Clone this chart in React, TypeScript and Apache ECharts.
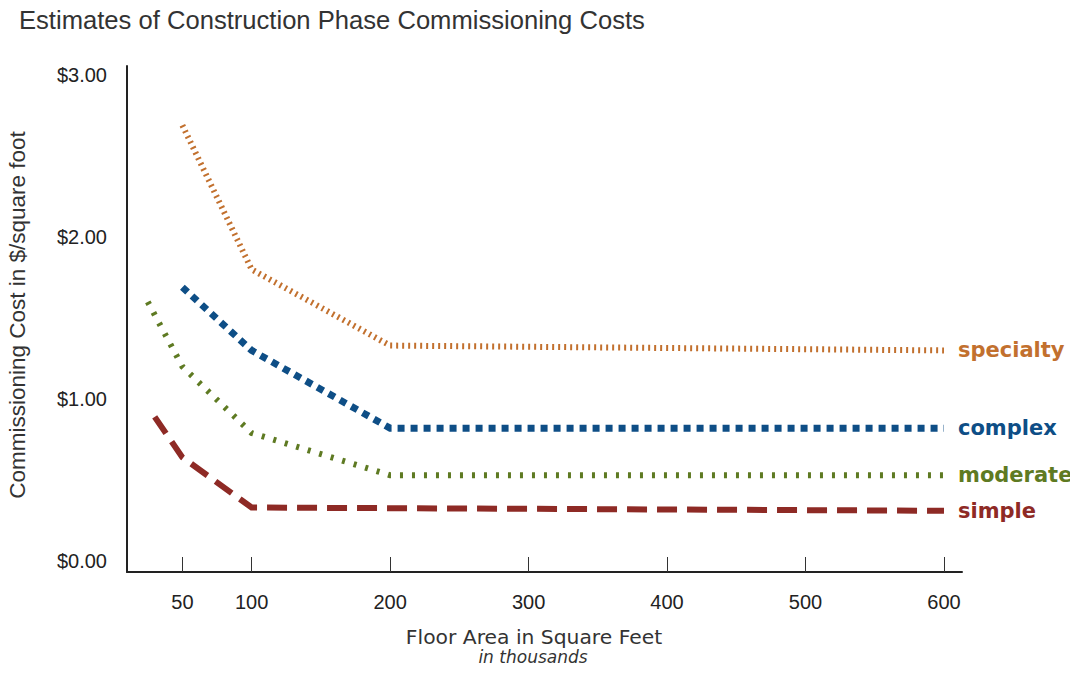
import React, { useEffect, useRef } from "react";
import * as echarts from "echarts";

const title = "Estimates of Construction Phase Commissioning Costs";
const xName = "Floor Area in Square Feet";
const xSubName = "in thousands";
const yName = "Commissioning Cost in $/square foot";
const xTicks = [50, 100, 200, 300, 400, 500, 600];
const yTicks = [0, 1, 2, 3];

const specialtyX = [50, 100, 200, 600];
const specialtyY = [2.69, 1.8, 1.33, 1.3];
const complexX = [50, 100, 200, 600];
const complexY = [1.69, 1.3, 0.82, 0.82];
const moderateX = [25, 50, 100, 200, 600];
const moderateY = [1.6, 1.2, 0.79, 0.53, 0.53];
const simpleX = [30, 50, 100, 600];
const simpleY = [0.89, 0.64, 0.33, 0.31];

const zip = (xs: number[], ys: number[]) => xs.map((x, i) => [x, ys[i]]);

export default function App() {
  const ref = useRef<HTMLDivElement>(null);
  useEffect(() => {
    if (!ref.current) return;
    const chart = echarts.init(ref.current, null, { renderer: "svg" });
    const mk = (name: string, xs: number[], ys: number[], color: string, width: number, dash: number[]) => ({
      type: "line",
      name,
      data: zip(xs, ys),
      showSymbol: false,
      symbol: "none",
      lineStyle: { color, width, type: dash, cap: "butt", join: "miter" },
      endLabel: {
        show: true,
        formatter: name,
        color,
        fontFamily: "DejaVu Sans",
        fontWeight: "bold",
        fontSize: 21,
        distance: 14,
      },
    });
    chart.setOption({
      animation: false,
      backgroundColor: "#ffffff",
      title: {
        text: title,
        left: 19,
        top: 7,
        padding: 0,
        textStyle: { fontFamily: "Liberation Sans", fontWeight: "normal", fontSize: 25.6, color: "#333" },
      },
      grid: { left: 127, right: 116, top: 66, bottom: 102 },
      graphic: [
        {
          type: "text",
          x: 534,
          y: 637,
          style: { text: xName, fontFamily: "DejaVu Sans", fontSize: 20.3, fill: "#333", align: "center", verticalAlign: "middle" },
        },
        {
          type: "text",
          x: 533,
          y: 657,
          style: { text: xSubName, fontFamily: "DejaVu Sans", fontStyle: "italic", fontSize: 17, fill: "#333", align: "center", verticalAlign: "middle" },
        },
        {
          type: "text",
          x: 17,
          y: 315,
          rotation: Math.PI / 2,
          style: { text: yName, fontFamily: "Liberation Sans", fontSize: 22.5, fill: "#333", align: "center", verticalAlign: "middle" },
        },
      ],
      xAxis: {
        type: "value",
        min: 10,
        max: 613,
        splitLine: { show: false },
        axisLine: { show: true, onZero: false, lineStyle: { color: "#222", width: 2 } },
        axisTick: { show: true, inside: true, length: 15, customValues: xTicks, lineStyle: { color: "#333", width: 1 } },
        axisLabel: {
          customValues: xTicks,
          margin: 20,
          fontFamily: "'Liberation Sans Narrow', 'Liberation Sans'",
          fontSize: 20,
          color: "#222",
        },
      },
      yAxis: {
        type: "value",
        min: -0.068,
        max: 3.056,
        splitLine: { show: false },
        axisLine: { show: true, onZero: false, lineStyle: { color: "#222", width: 2 } },
        axisTick: { show: false },
        axisLabel: {
          customValues: yTicks,
          margin: 20,
          formatter: (v: number) => "$" + v.toFixed(2),
          fontFamily: "Liberation Sans",
          fontSize: 20,
          color: "#222",
        },
      },
      series: [
        mk("specialty", specialtyX, specialtyY, "#C2702E", 6, [2, 4]),
        mk("complex", complexX, complexY, "#0E4E86", 7, [7, 6]),
        mk("moderate", moderateX, moderateY, "#5E7A22", 6, [3, 9]),
        mk("simple", simpleX, simpleY, "#8E2A25", 6, [20, 10]),
      ],
    });
    return () => chart.dispose();
  }, []);
  return <div ref={ref} style={{ width: 1078, height: 674, margin: -8 }} />;
}
